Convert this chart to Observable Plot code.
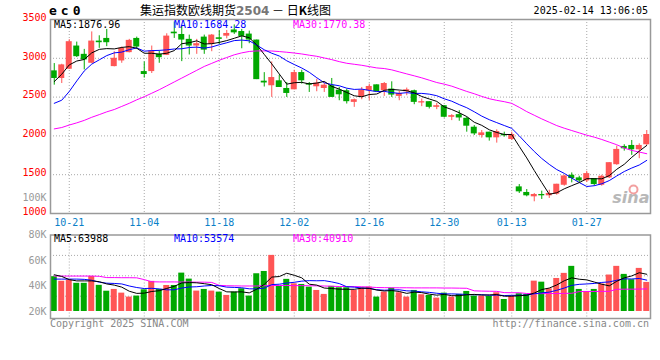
<!DOCTYPE html>
<html><head><meta charset="utf-8">
<script src="https://cdn.jsdelivr.net/npm/d3@7"></script>
<script src="https://cdn.jsdelivr.net/npm/@observablehq/plot@0.6"></script>
<style>
html,body{margin:0;padding:0;background:#fff;}
#wrap{position:relative;width:660px;height:360px;overflow:hidden;background:#fff;}
#wrap svg{position:absolute;left:0;top:0;}
.t{position:absolute;white-space:nowrap;font-family:"DejaVu Sans Mono",monospace;font-size:10px;line-height:10px;}
</style></head><body><div id="wrap"></div>
<script>
// ---- data ----
const dates = ["2024-10-17","2024-10-18","2024-10-21","2024-10-22","2024-10-23","2024-10-24","2024-10-25","2024-10-28","2024-10-29","2024-10-30",
"2024-10-31","2024-11-01","2024-11-04","2024-11-05","2024-11-06","2024-11-07","2024-11-08","2024-11-11","2024-11-12","2024-11-13",
"2024-11-14","2024-11-15","2024-11-18","2024-11-19","2024-11-20","2024-11-21","2024-11-22","2024-11-25","2024-11-26","2024-11-27",
"2024-11-28","2024-11-29","2024-12-02","2024-12-03","2024-12-04","2024-12-05","2024-12-06","2024-12-09","2024-12-10","2024-12-11",
"2024-12-12","2024-12-13","2024-12-16","2024-12-17","2024-12-18","2024-12-19","2024-12-20","2024-12-23","2024-12-24","2024-12-25",
"2024-12-26","2024-12-27","2024-12-30","2024-12-31","2025-01-02","2025-01-03","2025-01-06","2025-01-07","2025-01-08","2025-01-09",
"2025-01-10","2025-01-13","2025-01-14","2025-01-15","2025-01-16","2025-01-17","2025-01-20","2025-01-21","2025-01-22","2025-01-23",
"2025-01-24","2025-01-27","2025-02-05","2025-02-06","2025-02-07","2025-02-10","2025-02-11","2025-02-12","2025-02-13","2025-02-14"];
const open = [2838,2740,2859,3158,3051,2936,3222,3256,2893,2966, 3073,3256,2829,2829,3051,3038,3337,3307,3244,3158,
3273,3179,3264,3285,3365,3345,3312,3235,2705,2646, 2710,2611,2594,2816,2675,2633,2611,2646,2590,2582,
2432,2496,2582,2658,2582,2603,2509,2569,2582,2424, 2441,2368,2389,2240,2274,2227,2112,2005,2048,1975,
2018,1954,1343,1271,1215,1245,1228,1249,1364,1493, 1459,1420,1450,1364,1459,1629,1864,1877,1821,1886];
const high = [2932,2923,3240,3209,3115,3340,3290,3372,3085,3145, 3244,3273,2953,3158,3094,3316,3469,3414,3299,3244,
3299,3307,3360,3359,3430,3372,3350,3235,2815,2953, 2782,2688,2846,2846,2688,2731,2680,2740,2624,2603,
2475,2624,2667,2658,2688,2697,2573,2616,2590,2475, 2441,2419,2389,2274,2325,2240,2133,2069,2048,2078,
2048,2048,1373,1309,1258,1288,1300,1377,1493,1523, 1480,1544,1450,1493,1655,1868,1886,1941,1898,2069];
const low = [2654,2675,2855,3010,2850,2930,3128,3150,2890,2936, 3070,3115,2745,2804,2936,3035,3256,2957,3043,3051,
3051,3085,3179,3251,3308,3123,3188,2725,2630,2496, 2624,2496,2594,2667,2560,2569,2560,2496,2453,2411,
2368,2466,2453,2569,2509,2496,2453,2518,2402,2377, 2347,2338,2231,2197,2189,2048,2005,1971,1933,1907,
1984,1941,1258,1215,1151,1181,1194,1236,1352,1395, 1399,1399,1352,1352,1450,1621,1804,1749,1706,1877];
const close = [2740,2915,3214,3021,2979,3222,3201,3201,3000,3128, 3231,3145,2791,3094,3008,3286,3316,3235,3158,3188,
3105,3299,3244,3320,3328,3282,3235,2725,2682,2752, 2624,2547,2816,2710,2654,2680,2654,2496,2530,2441,
2466,2590,2637,2569,2675,2526,2547,2594,2432,2441, 2368,2389,2240,2261,2231,2125,2026,2039,1975,2056,
2001,2018,1279,1228,1245,1228,1258,1377,1484,1450, 1420,1514,1373,1480,1655,1826,1834,1821,1877,2018];
const ma5 = [2700,2795,2915,2965,2985,3070,3115,3125,3121,3140, 3150,3130,3065,3065,3054,3065,3099,3188,3201,3225,
3185,3188,3205,3228,3258,3289,3265,3172,3050,2928, 2798,2667,2685,2690,2670,2681,2702,2638,2603,2560,
2517,2504,2533,2540,2587,2599,2591,2582,2555,2508, 2476,2445,2374,2340,2298,2249,2176,2136,2079,2044,
2019,2017,1865,1716,1554,1399,1248,1267,1318,1359, 1398,1449,1448,1447,1488,1570,1634,1724,1803,1876.96];
const ma10 = [2420,2460,2572,2708,2837,2925,2980,3035,3070,3080, 3111,3134,3092,3099,3102,3109,3120,3123,3139,3144,
3131,3146,3175,3200,3228,3235,3225,3170,3110,3065, 3030,2968,2920,2875,2820,2750,2685,2662,2646,2615,
2599,2603,2586,2571,2574,2558,2548,2557,2548,2548, 2538,2518,2478,2447,2403,2363,2311,2255,2209,2171,
2134,2097,2001,1898,1799,1709,1633,1566,1517,1457, 1399,1348,1358,1383,1424,1484,1541,1586,1625,1684.28];
const ma30 = [2090,2108,2140,2168,2200,2240,2274,2310,2340,2380, 2420,2465,2505,2550,2595,2645,2695,2745,2795,2845,
2895,2935,2975,3010,3045,3070,3088,3095,3095,3094, 3087,3078,3068,3056,3040,3026,3004,2983,2957,2936,
2923,2910,2893,2876,2868,2851,2825,2799,2774,2748, 2718,2688,2667,2641,2607,2573,2543,2509,2479,2458,
2441,2419,2368,2313,2266,2219,2176,2133,2099,2069, 2039,2009,1984,1954,1920,1886,1843,1813,1792,1770.38];
const volume = [47300,43700,44700,42100,42100,47500,40500,35900,37300,34400, 31300,32100,37000,43600,37300,40400,40400,50100,45400,36000,
37300,36000,35200,32600,35200,37800,32100,49600,51400,64000, 39700,45200,41700,41200,39100,36500,33400,39700,38600,38600,
36500,38300,39100,31300,35200,38300,34700,31300,36500,33100, 32600,30500,34400,31300,33400,35700,32100,32100,31800,34700,
29400,32100,33900,33400,43800,43000,37800,45900,49900,55400, 37300,35700,37300,41500,48600,55400,49100,44900,53800,42800];
const volMa5K = [48.8,47.5,45.0,44.0,44.0,44.0,43.4,41.6,40.7,39.1, 35.9,34.2,34.4,35.7,36.3,38.1,39.7,42.4,42.7,42.5,
41.8,41.0,38.0,35.4,35.3,35.4,34.6,37.5,41.2,47.0, 47.4,50.0,48.4,46.4,41.4,40.7,38.4,38.0,37.5,37.4,
37.4,38.3,38.2,36.8,36.1,36.4,35.7,34.2,35.2,34.8, 33.6,32.8,33.4,32.4,32.4,33.1,33.4,32.9,33.0,33.3,
32.0,32.0,32.4,32.7,34.5,37.2,38.4,40.8,44.1,46.4, 45.3,44.8,43.1,41.4,40.1,43.7,46.4,47.9,50.4,49.2];
const volMa10K = [45.4,45.4,45.4,45.4,45.2,44.5,43.0,42.2,42.0,41.6, 40.0,38.8,38.0,38.2,37.7,37.0,37.0,38.4,39.2,39.4,
40.0,40.4,40.2,39.1,38.9,38.6,37.8,37.7,38.3,41.1, 41.4,42.3,42.9,43.8,44.2,44.1,44.2,43.2,41.9,39.4,
39.1,38.4,38.1,37.1,36.7,36.9,37.0,36.2,36.0,35.4, 35.0,34.3,33.8,33.8,33.6,33.4,33.1,33.2,32.7,32.9,
32.5,32.7,32.7,32.9,33.9,34.6,35.2,36.6,38.4,40.5, 41.3,41.6,42.0,42.8,43.2,44.5,45.6,45.5,45.9,44.6];
const volMa30K = [47.8,47.8,47.8,47.8,47.8,47.8,47.6,46.6,46.6,46.5, 46.5,46.4,45.0,43.3,43.2,43.2,43.2,43.1,43.1,43.0,
43.0,42.8,40.5,40.2,40.1,40.0,40.0,40.0,40.2,40.4, 40.4,40.4,40.3,40.3,40.2,40.1,40.0,39.8,39.6,39.6,
39.5,39.4,39.2,38.8,38.7,38.6,38.6,38.6,38.5,38.5, 38.5,38.5,38.4,38.4,38.3,38.2,36.2,36.0,35.9,35.8,
34.8,34.7,34.7,34.1,34.0,34.0,34.1,34.1,34.2,34.3, 35.6,35.7,35.7,35.8,35.8,37.4,37.5,37.5,37.6,37.7];
const dateTicks = ["2024-10-21","2024-11-04","2024-11-18","2024-12-02","2024-12-16","2024-12-30","2025-01-13","2025-01-27"];
const priceTicks = [1000,1500,2000,2500,3000,3500];
const priceGrid = [1500,2000,2500,3000];
const priceDomain = [1000,3500];
const volTicks = [20000,40000,60000,80000];
const volGrid = [64000,48000,32000];
const volDomain = [14500,80000];
const volBase = 20000;
const priceLegend = [["MA5",1876.96],["MA10",1684.28],["MA30",1770.38]];
const volLegend = [["MA5",63988],["MA10",53574],["MA30",40910]];
const titleCode = "ec0";
const titleName = "集运指数欧线期货";
const titleContract = "2504";
const titleKind = "日K线图";
const stamp = "2025-02-14 13:06:05";
const extraPriceLabel = "100K";
const copyright = "Copyright 2025 SINA.COM";
const site = "http://finance.sina.com.cn";

// ---- build ----
const RED = "#ff5555", GREEN = "#00a800";
const MA_COLORS = ["#000000", "#0000ff", "#ff00ff"];
const rows = dates.map((date, i) => ({
  date, open: open[i], high: high[i], low: low[i], close: close[i],
  ma5: ma5[i], ma10: ma10[i], ma30: ma30[i], volume: volume[i],
  vma5: volMa5K[i] * 1000, vma10: volMa10K[i] * 1000, vma30: volMa30K[i] * 1000,
  up: close[i] >= open[i]
}));
const col = d => d.up ? RED : GREEN;
const FONT = '"DejaVu Sans Mono", monospace';
const dotted = {stroke: "#a8a8a8", strokeOpacity: 1, strokeDasharray: "1,2"};
const xOpt = {type: "band", domain: dates, padding: 0, axis: null};

const price = Plot.plot({
  width: 660, height: 360,
  marginLeft: 50, marginRight: 10, marginTop: 19, marginBottom: 147,
  x: xOpt,
  y: {domain: priceDomain, axis: null},
  style: {background: "transparent", fontFamily: FONT, fontSize: "10px", overflow: "visible"},
  marks: [
    Plot.gridY(priceGrid, dotted),
    Plot.gridX(dateTicks, dotted),
    Plot.text([extraPriceLabel], {frameAnchor: "bottom-left", dx: -4, dy: -12.5, textAnchor: "end", fill: "#999"}),
    Plot.text(["sina"], {frameAnchor: "bottom-right", dx: -1, dy: -11, textAnchor: "end", fill: "#b8b8b8",
      fontSize: 16, fontWeight: "bold", fontStyle: "italic", fontFamily: "DejaVu Sans"}),
    Plot.dot([0], {frameAnchor: "bottom-right", dx: -17, dy: -24, r: 4, stroke: "#f2a0a0", strokeWidth: 2, fill: "none"}),
    Plot.ruleX(rows, {x: "date", y1: "low", y2: "high", stroke: col, strokeWidth: 1}),
    Plot.barY(rows, {x: "date", y1: "open", y2: "close", fill: col, insetLeft: 0.75, insetRight: 0.75}),
    Plot.lineY(rows, {x: "date", y: "ma30", stroke: MA_COLORS[2], strokeWidth: 1}),
    Plot.lineY(rows, {x: "date", y: "ma10", stroke: MA_COLORS[1], strokeWidth: 1}),
    Plot.lineY(rows, {x: "date", y: "ma5", stroke: MA_COLORS[0], strokeWidth: 1}),
    Plot.frame({stroke: "#999", strokeWidth: 1.5}),
    Plot.axisY(priceTicks, {tickSize: 0, tickPadding: 4, color: "#ff0000", dy: -2, label: null, tickFormat: d => String(d)}),
    Plot.axisX(dateTicks, {tickSize: 0, tickPadding: 5, color: "#0a7fc8", label: null, tickFormat: d => d.slice(5)})
  ]
});

const vol = Plot.plot({
  width: 660, height: 360,
  marginLeft: 50, marginRight: 10, marginTop: 234.5, marginBottom: 42,
  x: xOpt,
  y: {domain: volDomain, axis: null},
  style: {background: "transparent", fontFamily: FONT, fontSize: "10px", overflow: "visible"},
  marks: [
    Plot.gridY(volGrid, dotted),
    Plot.gridX(dateTicks, dotted),
    Plot.barY(rows, {x: "date", y1: volBase, y2: "volume", fill: col, insetLeft: 0.75, insetRight: 0.75}),
    Plot.lineY(rows, {x: "date", y: "vma30", stroke: MA_COLORS[2], strokeWidth: 1}),
    Plot.lineY(rows, {x: "date", y: "vma10", stroke: MA_COLORS[1], strokeWidth: 1}),
    Plot.lineY(rows, {x: "date", y: "vma5", stroke: MA_COLORS[0], strokeWidth: 1}),
    Plot.frame({stroke: "#999", strokeWidth: 1.5}),
    Plot.axisY(volTicks, {tickSize: 0, tickPadding: 4, color: "#999", label: null, tickFormat: d => (d / 1000) + "K"})
  ]
});

const wrap = document.getElementById("wrap");
wrap.appendChild(price);
wrap.appendChild(vol);

function addText(html, css) {
  const el = document.createElement("div");
  el.className = "t";
  el.innerHTML = html;
  Object.assign(el.style, css);
  wrap.appendChild(el);
  return el;
}
// title row
addText(titleCode, {left: "49px", top: "4px", fontSize: "13px", lineHeight: "13px", fontWeight: "bold", letterSpacing: "4px"});
addText(`${titleName}<span style="color:#777;font-weight:bold;font-family:'DejaVu Sans',sans-serif;font-size:12px">${titleContract}</span>&nbsp;－&nbsp;${titleKind.replace("K", "<b>K</b>")}`,
  {left: "140px", top: "3px", fontFamily: '"Noto Sans CJK SC", sans-serif', fontSize: "12px", lineHeight: "14px"});
addText(stamp, {right: "12px", top: "6px"});
// legends
const legX = [54, 174, 293];
priceLegend.forEach(([k, v], i) => addText(`${k}:${v.toFixed(2)}`, {left: legX[i] + "px", top: "19.7px", color: MA_COLORS[i]}));
volLegend.forEach(([k, v], i) => addText(`${k}:${v}`, {left: legX[i] + "px", top: "233.5px", color: MA_COLORS[i]}));
// footer
addText(copyright, {left: "50px", top: "318.5px", color: "#888"});
addText(site, {right: "11px", top: "318.5px", color: "#888"});
</script></body></html>
